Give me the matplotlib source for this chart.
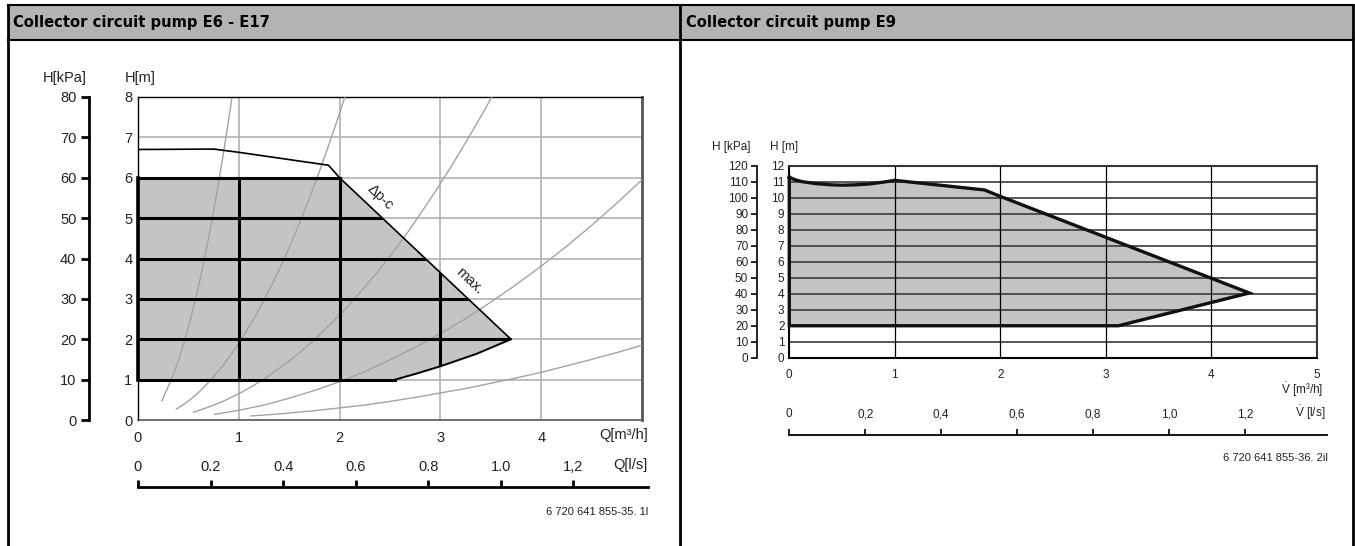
import matplotlib
matplotlib.use("Agg")
import matplotlib.pyplot as plt
from matplotlib.patches import Polygon, Rectangle
from matplotlib import font_manager

# ---------------- data ----------------
# left chart: collector circuit pump E6 - E17 (Q in m3/h, H in m)
E17_Q_TICKS = [0, 1, 2, 3, 4]
E17_H_TICKS = [0, 1, 2, 3, 4, 5, 6, 7, 8]
E17_KPA_TICKS = [0, 10, 20, 30, 40, 50, 60, 70, 80]
E17_LS_TICKS = [0, 0.2, 0.4, 0.6, 0.8, 1.0, 1.2]
E17_LS_LABELS = ["0", "0.2", "0.4", "0.6", "0.8", "1.0", "1,2"]

# max curve (joins the delta-p-c line at the corner of the grey area)
max_q = [0, 0.75, 1.0, 1.89, 2.0, 3.7]
max_h = [6.7, 6.71, 6.63, 6.31, 6.0, 2.0]
# lower right edge of the working area
low_q = [3.7, 3.36, 3.0, 2.75, 2.55]
low_h = [2.0, 1.64, 1.33, 1.14, 1.0]
area_top_h = 6.0
area_bottom_h = 1.0

# system curves (thin grey)
sys_a_q = [0.235, 0.28, 0.32, 0.36, 0.4, 0.44, 0.48, 0.52, 0.56, 0.6, 0.64, 0.68, 0.72,
           0.76, 0.8, 0.84, 0.88, 0.93]
sys_a_h = [0.47, 0.72, 0.94, 1.19, 1.47, 1.78, 2.12, 2.49, 2.89, 3.31, 3.77, 4.25, 4.77,
           5.31, 5.89, 6.49, 7.12, 7.96]
sys_b_q = [0.38, 0.45, 0.52, 0.6, 0.68, 0.76, 0.84, 0.92, 1.0, 1.08, 1.16, 1.24, 1.32, 1.4,
           1.48, 1.56, 1.64, 1.72, 1.8, 1.88, 1.96, 2.05]
sys_b_h = [0.27, 0.38, 0.51, 0.68, 0.88, 1.10, 1.34, 1.61, 1.9, 2.22, 2.56, 2.92, 3.31, 3.72,
           4.16, 4.62, 5.11, 5.62, 6.16, 6.72, 7.30, 7.98]
sys_c_q = [0.55, 0.7, 0.85, 1.0, 1.15, 1.3, 1.45, 1.6, 1.75, 1.9, 2.05, 2.2, 2.35, 2.5, 2.65,
           2.8, 2.95, 3.1, 3.25, 3.4, 3.51]
sys_c_h = [0.19, 0.32, 0.47, 0.65, 0.86, 1.10, 1.37, 1.66, 1.99, 2.35, 2.73, 3.15, 3.59, 4.06,
           4.56, 5.10, 5.66, 6.25, 6.87, 7.51, 8.0]
sys_d_q = [0.76, 1.0, 1.25, 1.5, 1.75, 2.0, 2.25, 2.5, 2.75, 3.0, 3.25, 3.5, 3.75, 4.0, 4.25,
           4.5, 4.75, 5.0]
sys_d_h = [0.14, 0.24, 0.37, 0.54, 0.73, 0.95, 1.20, 1.49, 1.80, 2.14, 2.51, 2.92, 3.35, 3.81,
           4.30, 4.82, 5.37, 5.95]
sys_e_q = [1.12, 1.4, 1.75, 2.0, 2.25, 2.5, 2.75, 3.0, 3.25, 3.5, 3.75, 4.0, 4.25, 4.5, 4.75,
           5.0]
sys_e_h = [0.1, 0.15, 0.23, 0.30, 0.37, 0.46, 0.56, 0.67, 0.78, 0.91, 1.04, 1.18, 1.34, 1.50,
           1.67, 1.85]
sys_curves = [(sys_a_q, sys_a_h), (sys_b_q, sys_b_h), (sys_c_q, sys_c_h),
              (sys_d_q, sys_d_h), (sys_e_q, sys_e_h)]

# right chart: collector circuit pump E9 (V in m3/h, H in m)
E9_Q_TICKS = [0, 1, 2, 3, 4, 5]
E9_H_TICKS = list(range(0, 13))
E9_KPA_TICKS = list(range(0, 130, 10))
E9_LS_TICKS = [0, 0.2, 0.4, 0.6, 0.8, 1.0, 1.2]
E9_LS_LABELS = ["0", "0,2", "0,4", "0,6", "0,8", "1,0", "1,2"]

e9_top_q = [0, 0.05, 0.12, 0.25, 0.4, 0.5, 0.62, 0.75, 0.88, 1.0, 1.85, 2.0, 4.36]
e9_top_h = [11.3, 11.15, 11.02, 10.9, 10.82, 10.8, 10.82, 10.87, 10.98, 11.1, 10.5, 10.1, 4.05]
e9_low_q = [4.36, 3.12, 0]
e9_low_h = [4.05, 2.0, 2.0]

# ---------------- styling ----------------
W, H = 1355, 546
GREY_FILL = "#c3c4c6"
HEADER = "#b3b3b3"
TXT = "#222222"

plt.rcParams.update({
    "font.family": ["Liberation Sans", "DejaVu Sans"],
    "mathtext.fontset": "custom",
    "mathtext.rm": "Liberation Sans",
    "mathtext.it": "Liberation Sans",
})


def pick_title_font():
    # prefer a narrow / condensed bold face, the reference uses one
    for f in font_manager.fontManager.ttflist:
        narrow = ("Narrow" in f.name or "Condensed" in f.name
                  or f.stretch in ("condensed", "semi-condensed", "extra-condensed"))
        w = f.weight
        bold = (w == "bold") or (isinstance(w, int) and w >= 700)
        if narrow and bold:
            return font_manager.FontProperties(fname=f.fname)
    return font_manager.FontProperties(family="Liberation Sans", weight="bold")


def px_axes(fig, x0, y_top, x1, y_bot):
    """Add axes given a pixel box (y measured from the top of the figure)."""
    return fig.add_axes([x0 / W, (H - y_bot) / H, (x1 - x0) / W, (y_bot - y_top) / H])


fig = plt.figure(figsize=(W / 100, H / 100), dpi=100)

# page frame + header band
bg = fig.add_axes([0, 0, 1, 1])
bg.set_xlim(0, W)
bg.set_ylim(H, 0)
bg.axis("off")
bg.add_patch(Rectangle((8, 5), 1345, 35, facecolor=HEADER, edgecolor="none"))
bg.plot([8, 1353], [5, 5], color="black", lw=1.5)
bg.plot([8, 1353], [40, 40], color="black", lw=1.5)
for xv in (8, 680, 1353):
    bg.plot([xv, xv], [5, H], color="black", lw=2)

title_fp = pick_title_font()
title_fp.set_size(15)
tL = bg.text(13, 23, "Collector circuit pump E6 - E17", fontproperties=title_fp,
             va="center", ha="left")
renderer = fig.canvas.get_renderer()
scale = 256 / tL.get_window_extent(renderer).width
title_fp.set_size(min(17.0, 15 * scale))
tL.set_fontproperties(title_fp)
bg.text(686, 23, "Collector circuit pump E9", fontproperties=title_fp, va="center", ha="left")

# ---------------- left chart ----------------
axL = px_axes(fig, 138, 97, 642, 420)
axL.set_xlim(0, 5)
axL.set_ylim(0, 8)
for q in [1, 2, 3, 4]:
    axL.axvline(q, color="#b8b8b8", lw=1.3, zorder=1)
for h in range(1, 8):
    axL.axhline(h, color="#b8b8b8", lw=1.3, zorder=1)

area_q = [0, 0] + max_q[-2:] + low_q[1:]
area_h = [area_bottom_h, area_top_h] + [area_top_h, max_h[-1]] + low_h[1:]
area = Polygon(list(zip(area_q, area_h)), closed=True, facecolor=GREY_FILL,
               edgecolor="none", zorder=2)
axL.add_patch(area)

for qs, hs in sys_curves:
    axL.plot(qs, hs, color="#a3a3a3", lw=1.0, zorder=3)

# heavy grid inside the working area
for h in [2, 3, 4, 5]:
    ln, = axL.plot([0, 5], [h, h], color="black", lw=2.2, zorder=4)
    ln.set_clip_path(area)
for q in [1, 2, 3]:
    ln, = axL.plot([q, q], [0, 8], color="black", lw=2.2, zorder=4)
    ln.set_clip_path(area)
axL.plot([0, max_q[-2]], [area_top_h, area_top_h], color="black", lw=2.2, zorder=4)
axL.plot([0, low_q[-1]], [area_bottom_h, area_bottom_h], color="black", lw=2.2, zorder=4)
axL.plot([0, 0], [area_bottom_h, area_top_h], color="black", lw=2.6, zorder=4, clip_on=False)

axL.plot(max_q, max_h, color="black", lw=1.2, zorder=5)
axL.plot(low_q, low_h, color="black", lw=1.4, zorder=5)
axL.text(2.4, 5.52, "\u0394p-c", rotation=-43.4, ha="center", va="center",
         fontsize=10.5, color=TXT, zorder=6)
axL.text(3.29, 3.44, "max.", rotation=-43.4, ha="center", va="center",
         fontsize=10.5, color=TXT, zorder=6)

axL.spines["top"].set_color("black")
axL.spines["top"].set_linewidth(1.0)
axL.spines["right"].set_color("#555555")
axL.spines["right"].set_linewidth(2.0)
axL.spines["bottom"].set_color("#555555")
axL.spines["bottom"].set_linewidth(1.2)
axL.spines["left"].set_linewidth(1.0)
axL.set_xticks(E17_Q_TICKS)
axL.set_yticks(E17_H_TICKS)
axL.tick_params(length=0, labelsize=10.5, colors=TXT)
axL.tick_params(axis="x", pad=8)
axL.tick_params(axis="y", pad=4)

# kPa axis
axLk = px_axes(fig, 89, 97, 90, 420)
axLk.set_ylim(0, 80)
axLk.set_yticks(E17_KPA_TICKS)
axLk.set_xticks([])
for s in ["top", "right", "bottom"]:
    axLk.spines[s].set_visible(False)
axLk.spines["left"].set_linewidth(2)
axLk.patch.set_visible(False)
axLk.tick_params(axis="y", direction="out", length=6, width=2, labelsize=10.5, pad=3,
                 colors="black", labelcolor=TXT)

# l/s axis
axLs = px_axes(fig, 138, 487, 648, 488)
axLs.set_xlim(0, (648 - 138) / (504 / 5) / 3.6)
axLs.set_xticks(E17_LS_TICKS)
axLs.set_xticklabels(E17_LS_LABELS)
axLs.set_yticks([])
for s in ["left", "right", "bottom"]:
    axLs.spines[s].set_visible(False)
axLs.spines["top"].set_linewidth(2)
axLs.patch.set_visible(False)
axLs.xaxis.set_ticks_position("top")
axLs.tick_params(axis="x", direction="out", length=5, width=2, labelsize=10.5, pad=4.5,
                 labelcolor=TXT)

bg.text(648, 435, "Q[m\u00b3/h]", ha="right", va="center", fontsize=10.5, color=TXT)
bg.text(648, 465, "Q[l/s]", ha="right", va="center", fontsize=10.5, color=TXT)
bg.text(43, 78, "H[kPa]", ha="left", va="center", fontsize=10.5, color=TXT)
bg.text(125, 78, "H[m]", ha="left", va="center", fontsize=10.5, color=TXT)
bg.text(648, 512, "6 720 641 855-35. 1l", ha="right", va="center", fontsize=8, color=TXT)

# ---------------- right chart ----------------
axR = px_axes(fig, 789.3, 166, 1316.8, 357.7)
axR.set_xlim(0, 5)
axR.set_ylim(0, 12)
e9_q = e9_top_q + e9_low_q[1:]
e9_h = e9_top_h + e9_low_h[1:]
axR.add_patch(Polygon(list(zip(e9_q, e9_h)), closed=True, facecolor=GREY_FILL,
                      edgecolor="none", zorder=1))
for h in range(1, 12):
    axR.axhline(h, color="#3c3c3c", lw=1.2, zorder=2)
for q in [1, 2, 3, 4]:
    axR.axvline(q, color="black", lw=0.9, zorder=2)
axR.plot(e9_q + [e9_q[0]], e9_h + [e9_h[0]], color="#111111", lw=2.4, zorder=3,
         solid_joinstyle="miter", clip_on=False)

for s in ["left", "bottom"]:
    axR.spines[s].set_linewidth(1.5)
for s in ["top", "right"]:
    axR.spines[s].set_linewidth(1.5)
    axR.spines[s].set_color("#333333")
axR.set_xticks(E9_Q_TICKS)
axR.set_yticks(E9_H_TICKS)
axR.tick_params(length=0, labelsize=8.5, colors=TXT)
axR.tick_params(axis="x", pad=8)
axR.tick_params(axis="y", pad=3.5)

axRk = px_axes(fig, 756.5, 166, 757.5, 357.7)
axRk.set_ylim(0, 120)
axRk.set_yticks(E9_KPA_TICKS)
axRk.set_xticks([])
for s in ["top", "right", "bottom"]:
    axRk.spines[s].set_visible(False)
axRk.spines["left"].set_linewidth(1.2)
axRk.patch.set_visible(False)
axRk.tick_params(axis="y", direction="out", length=4, width=1.2, labelsize=8.5, pad=2,
                 labelcolor=TXT)

axRs = px_axes(fig, 789.3, 435, 1327, 436)
axRs.set_xlim(0, (1327 - 789.3) / (527.5 / 5) / 3.6)
axRs.set_xticks(E9_LS_TICKS)
axRs.set_xticklabels(E9_LS_LABELS)
axRs.set_yticks([])
for s in ["left", "right", "bottom"]:
    axRs.spines[s].set_visible(False)
axRs.spines["top"].set_linewidth(1.3)
axRs.patch.set_visible(False)
axRs.xaxis.set_ticks_position("top")
axRs.tick_params(axis="x", direction="out", length=4, width=1.2, labelsize=8.5, pad=6.5,
                 labelcolor=TXT)

bg.text(1323, 390, "$\\dot{\\mathrm{V}}$ [m\u00b3/h]", ha="right", va="center",
        fontsize=8.5, color=TXT)
bg.text(1325, 413, "$\\dot{\\mathrm{V}}$ [l/s]", ha="right", va="center", fontsize=8.5,
        color=TXT)
bg.text(712, 147, "H [kPa]", ha="left", va="center", fontsize=8.5, color=TXT)
bg.text(770, 147, "H [m]", ha="left", va="center", fontsize=8.5, color=TXT)
bg.text(1328, 458, "6 720 641 855-36. 2il", ha="right", va="center", fontsize=8,
        color=TXT)

fig.savefig("out.png", dpi=100)
